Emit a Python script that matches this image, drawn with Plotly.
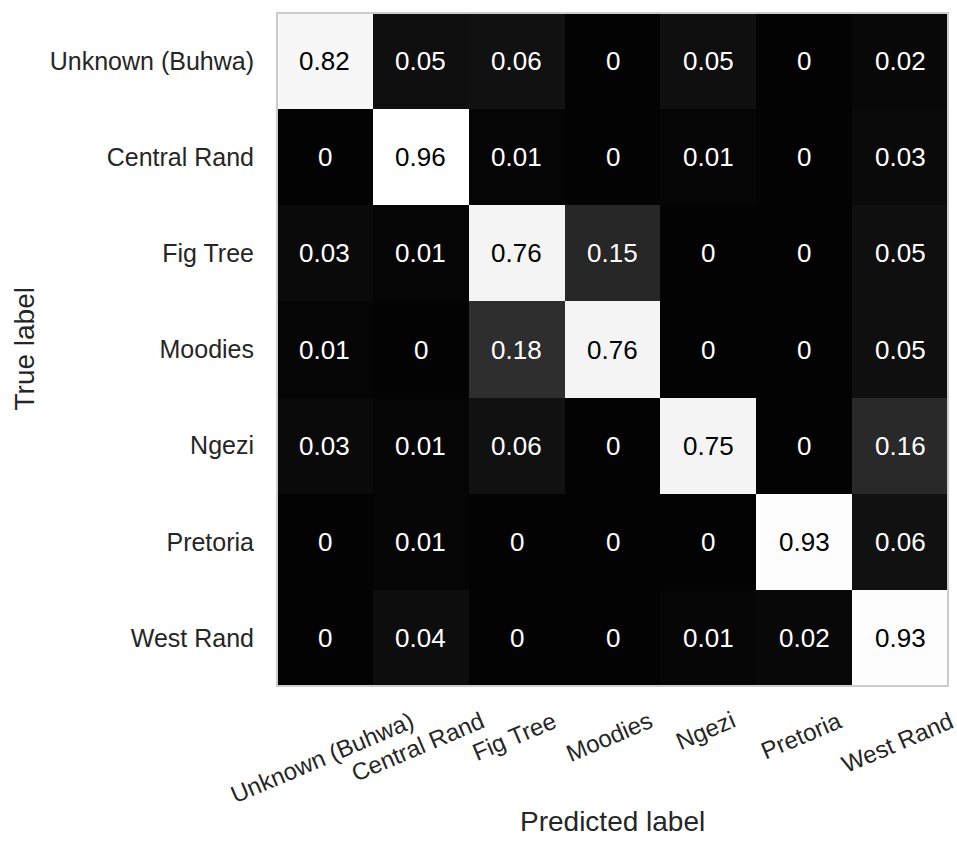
import plotly.graph_objects as go

labels = ["Unknown (Buhwa)", "Central Rand", "Fig Tree", "Moodies", "Ngezi", "Pretoria", "West Rand"]
values = [
    [0.82, 0.05, 0.06, 0, 0.05, 0, 0.02],
    [0, 0.96, 0.01, 0, 0.01, 0, 0.03],
    [0.03, 0.01, 0.76, 0.15, 0, 0, 0.05],
    [0.01, 0, 0.18, 0.76, 0, 0, 0.05],
    [0.03, 0.01, 0.06, 0, 0.75, 0, 0.16],
    [0, 0.01, 0, 0, 0, 0.93, 0.06],
    [0, 0.04, 0, 0, 0.01, 0.02, 0.93],
]
x_title = "Predicted label"
y_title = "True label"

FONT = "Liberation Sans, Arial, sans-serif"
TXT = "#262626"

colorscale = [
    [0.0, "rgb(3,3,3)"],
    [0.1875, "rgb(46,46,46)"],
    [0.77, "rgb(243,243,243)"],
    [1.0, "rgb(255,255,255)"],
]

fig = go.Figure(go.Heatmap(
    z=values, x=labels, y=labels,
    colorscale=colorscale, zmin=0, zmax=0.96,
    showscale=False, xgap=0, ygap=0, hoverinfo="skip",
))

annotations = []
for i, row_lab in enumerate(labels):
    for j, col_lab in enumerate(labels):
        v = values[i][j]
        annotations.append(dict(
            x=col_lab, y=row_lab, xref="x", yref="y",
            text=f"{v:g}", showarrow=False,
            font=dict(family=FONT, size=26, color="white" if v < 0.5 else "black"),
        ))

for lab in labels:
    annotations.append(dict(
        x=lab, xref="x", y=0, yref="paper", yanchor="top", xanchor="center",
        yshift=-18, xshift=-3, text=lab, textangle=-23, showarrow=False,
        font=dict(family=FONT, size=24, color=TXT),
    ))

annotations.append(dict(
    x=0.5, xref="paper", y=0, yref="paper", yanchor="middle", xanchor="center",
    yshift=-135, text=x_title, showarrow=False,
    font=dict(family=FONT, size=28, color=TXT),
))
annotations.append(dict(
    x=0, xref="paper", y=0.5, yref="paper", yanchor="middle", xanchor="center",
    xshift=-253, text=y_title, textangle=-90, showarrow=False,
    font=dict(family=FONT, size=28, color=TXT),
))

fig.update_layout(
    width=957, height=849,
    margin=dict(l=277, r=9, t=13, b=163),
    paper_bgcolor="white", plot_bgcolor="white",
    annotations=annotations,
    xaxis=dict(showticklabels=False, ticks="", showgrid=False, zeroline=False,
               range=[-0.5, len(labels) - 0.5]),
    yaxis=dict(range=[len(labels) - 0.5, -0.5], ticks="", showgrid=False, zeroline=False,
               tickfont=dict(family=FONT, size=25, color=TXT), ticklabelstandoff=22),
    shapes=[dict(type="rect", xref="paper", yref="paper", x0=0, y0=0, x1=1, y1=1,
                 line=dict(color="#cccccc", width=2), layer="above")],
)

fig.write_html("out.html")
